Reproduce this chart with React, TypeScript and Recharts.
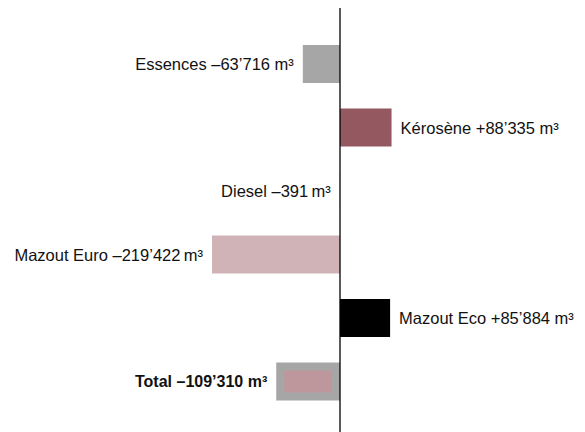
import React from "react";
import { BarChart, Bar, XAxis, YAxis, ReferenceLine, Cell } from "recharts";

const categories = ["Essences", "Kérosène", "Diesel", "Mazout Euro", "Mazout Eco", "Total"];
const values = [-63716, 88335, -391, -219422, 85884, -109310];
const labels = [
  "Essences –63’716 m³",
  "Kérosène +88’335 m³",
  "Diesel –391\u2009m³",
  "Mazout Euro –219’422\u2009m³",
  "Mazout Eco +85’884 m³",
  "Total –109’310 m³",
];
const colors = ["#a6a6a6", "#945960", "#a6a6a6", "#cfb3b7", "#000000", "#a6a6a6"];

const data = categories.map((name, i) => ({ name, value: values[i], label: labels[i] }));

const FONT = '"Liberation Sans", Arial, sans-serif';

const BarWithLabel = (props: any) => {
  const { x, y, width, height, index, payload } = props;
  const left = Math.min(x, x + width);
  const right = Math.max(x, x + width);
  const w = right - left;
  const isTotal = payload.name === "Total";
  const neg = payload.value < 0;
  const cy = y + height / 2;
  return (
    <g>
      <rect x={left} y={y} width={w} height={height} fill={colors[index]} />
      {isTotal && (
        <rect x={left + 8} y={y + 8} width={Math.max(w - 16, 0)} height={height - 16} fill="#bd979b" />
      )}
      <text
        x={neg ? left - 9 : right + 9}
        y={cy}
        textAnchor={neg ? "end" : "start"}
        dominantBaseline="central"
        fontFamily={FONT}
        fontSize={isTotal ? 16 : 16.5}
        fontWeight={isTotal ? "bold" : "normal"}
        fill="#111"
      >
        {payload.label}
      </text>
    </g>
  );
};

export default function App() {
  return (
    <div style={{ position: "absolute", left: 0, top: 0, width: 585, height: 432, background: "#fff" }}>
      <BarChart
        width={585}
        height={432}
        data={data}
        layout="vertical"
        margin={{ top: 8, right: 0, bottom: 0, left: 0 }}
        barSize={38}
      >
        <XAxis type="number" hide domain={[-582760, 419930]} allowDataOverflow />
        <YAxis type="category" dataKey="name" hide padding={{ top: 24, bottom: 19 }} />
        <Bar dataKey="value" isAnimationActive={false} shape={<BarWithLabel />}>
          {data.map((d, i) => (
            <Cell key={d.name} fill={colors[i]} />
          ))}
        </Bar>
        <ReferenceLine x={0} stroke="#000" strokeWidth={1.3} />
      </BarChart>
    </div>
  );
}
